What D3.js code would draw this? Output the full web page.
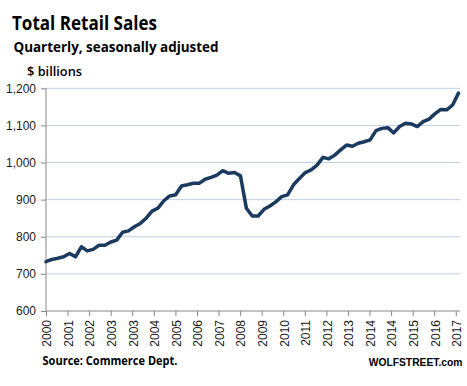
<!DOCTYPE html>
<html>
<head>
<meta charset="utf-8">
<script src="https://cdn.jsdelivr.net/npm/d3@7"></script>
<style>
  html, body { margin: 0; padding: 0; background: #fff; }
  svg { display: block; }
</style>
</head>
<body>
<svg id="chart" width="467" height="386"></svg>
<script>
// ---- Data ----
const salesValues = [
  733, 739, 742, 746, 755, 746, 773, 762, 766, 777,
  777, 786, 791, 812, 816, 827, 836, 850, 869, 877,
  897, 910, 913, 937, 940, 944, 944, 955, 960, 966,
  978, 971, 973, 964, 877, 856, 856, 874, 883, 894,
  908, 913, 940, 957, 973, 980, 993, 1014, 1010, 1020,
  1034, 1047, 1044, 1052, 1056, 1061, 1086, 1092, 1094, 1080,
  1097, 1106, 1104, 1097, 1110, 1117, 1131, 1143, 1142, 1155,
  1187
];
const xTickLabels = ["2000","2001","2002","2003","2003","2004","2005","2006","2007","2008",
                     "2009","2010","2011","2012","2013","2014","2014","2015","2016","2017"];
const yTicks = [600, 700, 800, 900, 1000, 1100, 1200];
const quartersPerTick = 3.66;

// ---- Layout ----
const svg = d3.select("#chart");
const plotL = 46, plotR = 458.5, plotT = 88.3, plotB = 311;

const x = d3.scaleLinear().domain([0, salesValues.length - 1]).range([plotL, plotR]);
const y = d3.scaleLinear().domain([600, 1200]).range([plotB, plotT]);

const numFont = "'Liberation Sans', Arial, sans-serif";
const titleFont = "'Open Sans', 'Liberation Sans', sans-serif";

// gridlines
svg.append("g").selectAll("line").data(yTicks.filter(d => d > 600)).join("line")
  .attr("x1", plotL).attr("x2", 460)
  .attr("y1", d => y(d)).attr("y2", d => y(d))
  .attr("stroke", "#bcd0e8").attr("stroke-width", 1);

// y axis
const yAxis = d3.axisLeft(y).tickValues(yTicks).tickSize(5).tickPadding(5)
  .tickFormat(d3.format(","));
const gy = svg.append("g").attr("transform", `translate(${plotL},0)`).call(yAxis);
gy.select(".domain").attr("stroke", "#888").attr("d", `M0,${plotT}V${plotB}`);
gy.selectAll(".tick line").attr("stroke", "#888");
gy.selectAll(".tick text").attr("font-family", numFont).attr("font-size", 12)
  .attr("fill", "#1a1a1a").attr("x", -10);

// x axis
const tickIdx = xTickLabels.map((_, i) => i * quartersPerTick);
const xAxis = d3.axisBottom(x).tickValues(tickIdx).tickSize(5)
  .tickFormat((d, i) => xTickLabels[i]);
const gx = svg.append("g").attr("transform", `translate(0,${plotB})`).call(xAxis);
gx.select(".domain").attr("stroke", "#888").attr("d", `M${plotL},0H460`);
gx.selectAll(".tick line").attr("stroke", "#888");
gx.selectAll(".tick text")
  .attr("font-family", numFont).attr("font-size", 12).attr("fill", "#1a1a1a")
  .attr("text-anchor", "end")
  .attr("transform", "rotate(-90)")
  .attr("x", -9).attr("y", 0).attr("dy", "0.4em");

// line
svg.append("path").datum(salesValues)
  .attr("fill", "none")
  .attr("stroke", "#1b3a5f")
  .attr("stroke-width", 3.5)
  .attr("stroke-linejoin", "round")
  .attr("stroke-linecap", "round")
  .attr("d", d3.line().x((d, i) => x(i)).y(d => y(d)));

// texts
function txt(s, xx, yy, size, weight, len, anchor, fam) {
  const t = svg.append("text").attr("x", xx).attr("y", yy)
    .attr("font-family", fam || titleFont).attr("font-size", size)
    .attr("font-weight", weight).attr("fill", "#000")
    .attr("text-anchor", anchor || "start").text(s);
  if (len) t.attr("textLength", len).attr("lengthAdjust", "spacingAndGlyphs");
  return t;
}
txt("Total Retail Sales", 12, 29.5, 20, 700, 145);
txt("Quarterly, seasonally adjusted", 13.5, 52, 14.5, 700, 205);
txt("$ billions", 27, 76, 13, 600, 55);
txt("Source: Commerce Dept.", 42.5, 365, 11.5, 700, 135);
txt("WOLFSTREET.com", 462.5, 366, 10.3, 700, null, "end", numFont);
</script>
</body>
</html>
